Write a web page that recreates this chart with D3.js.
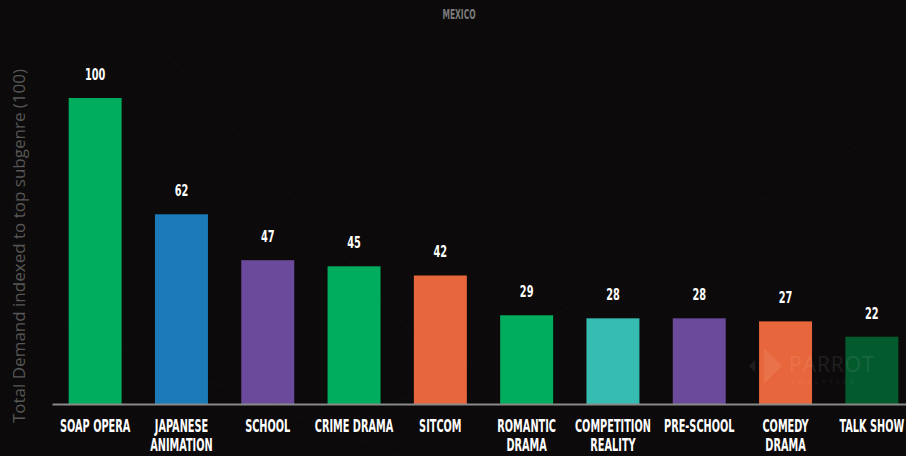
<!DOCTYPE html>
<html>
<head>
<meta charset="utf-8">
<script src="https://cdn.jsdelivr.net/npm/d3@7/dist/d3.min.js"></script>
<style>
  html, body { margin: 0; padding: 0; background: #0c0a0a; }
  svg { display: block; }
</style>
</head>
<body>
<svg id="chart" width="906" height="456"></svg>
<script>
// Subgenre demand, Mexico (indexed to top subgenre = 100)
const genres = ["SOAP OPERA", "JAPANESE ANIMATION", "SCHOOL", "CRIME DRAMA", "SITCOM",
                "ROMANTIC DRAMA", "COMPETITION REALITY", "PRE-SCHOOL", "COMEDY DRAMA", "TALK SHOW"];
const demand = [100, 62, 47, 45, 42, 29, 28, 28, 27, 22];
const labelLines = [["SOAP OPERA"], ["JAPANESE", "ANIMATION"], ["SCHOOL"], ["CRIME DRAMA"], ["SITCOM"],
                    ["ROMANTIC", "DRAMA"], ["COMPETITION", "REALITY"], ["PRE-SCHOOL"], ["COMEDY", "DRAMA"], ["TALK SHOW"]];
const barColors = ["#00ad5f", "#1b7bb9", "#6b4a9b", "#00ad5f", "#e8663b",
                   "#00ad5f", "#37bcb2", "#6b4a9b", "#e8663b", "#035a2d"];

const svg = d3.select("#chart");
const W = 906, H = 456;
const base = 404, top100 = 98;
const condensed = "'DejaVu Sans Condensed', 'DejaVu Sans', sans-serif";

svg.append("rect").attr("width", W).attr("height", H).attr("fill", "#0c0a0a");

// faint diagonal texture lines in the background
const streaks = [[120, 0, 520, 456], [300, 456, 906, 120], [0, 300, 400, 456]];
svg.append("g").selectAll("line").data(streaks).join("line")
  .attr("x1", d => d[0]).attr("y1", d => d[1]).attr("x2", d => d[2]).attr("y2", d => d[3])
  .attr("stroke", "#121010").attr("stroke-width", 1);

const x = d3.scaleBand().domain(genres).range([52, 915]).paddingInner(0.386).paddingOuter(0.193);
const y = d3.scaleLinear().domain([0, 100]).range([base, top100]);

// narrow display-style text: condensed bold squeezed horizontally
function narrowText(g, cx, cy, size, sx, fill) {
  return g.append("text")
    .attr("transform", `translate(${cx},${cy}) scale(${sx},1)`)
    .attr("text-anchor", "middle")
    .attr("fill", fill)
    .attr("font-family", condensed).attr("font-weight", "bold")
    .attr("font-size", size);
}

// title
narrowText(svg, 459, 19, 13.5, 0.62, "#7a7a7a").text("MEXICO");

// y-axis title
svg.append("text")
  .attr("transform", `translate(25,${246}) rotate(-90)`)
  .attr("text-anchor", "middle")
  .attr("fill", "#575757")
  .attr("font-family", "'Open Sans', Lato, sans-serif")
  .attr("font-size", 17)
  .text("Total Demand indexed to top subgenre (100)");

// bars
svg.append("g").selectAll("rect").data(genres).join("rect")
  .attr("x", d => x(d))
  .attr("y", (d, i) => y(demand[i]))
  .attr("width", x.bandwidth())
  .attr("height", (d, i) => base - y(demand[i]))
  .attr("fill", (d, i) => barColors[i]);

// watermark, drawn over the bars
const wm = svg.append("g").attr("opacity", 0.08);
wm.append("text").attr("x", 789).attr("y", 372).attr("fill", "#ffffff")
  .attr("font-family", "'Open Sans', sans-serif").attr("font-size", 21).attr("letter-spacing", 1)
  .text("PARROT");
wm.append("text").attr("x", 791).attr("y", 384).attr("fill", "#ffffff")
  .attr("font-family", "'Open Sans', sans-serif").attr("font-size", 6).attr("letter-spacing", 4)
  .text("ANALYTICS");
wm.append("path").attr("d", "M764,348 L782,366 L764,384 Z").attr("fill", "#ffffff");
wm.append("path").attr("d", "M749,366 L755,360 L755,372 Z").attr("fill", "#ffffff");

// value labels
const vals = svg.append("g");
genres.forEach((g, i) => {
  narrowText(vals, x(g) + x.bandwidth() / 2, y(demand[i]) - 18, 16.5, 0.66, "#ffffff").text(demand[i]);
});

// x axis
const xAxis = svg.append("g").attr("transform", `translate(0,${base})`)
  .call(d3.axisBottom(x).tickSize(0).tickFormat(""));
xAxis.select(".domain").attr("stroke", "#8a8a8a").attr("stroke-width", 2);

// category labels (wrapped to two lines where needed)
const cats = svg.append("g");
genres.forEach((g, i) => {
  const t = narrowText(cats, x(g) + x.bandwidth() / 2, 432, 17.5, 0.62, "#ffffff");
  labelLines[i].forEach((line, j) => {
    t.append("tspan").attr("x", 0).attr("dy", j === 0 ? 0 : 19.5).text(line);
  });
});
</script>
</body>
</html>
